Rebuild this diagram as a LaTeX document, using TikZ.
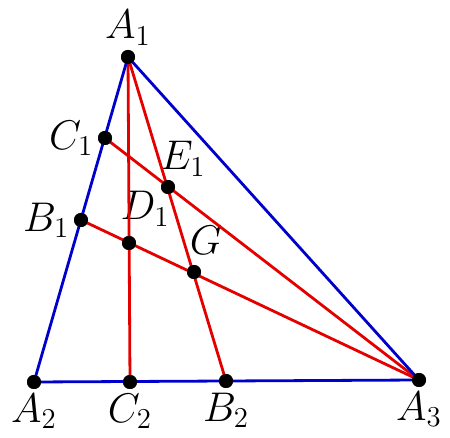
\documentclass[tikz,border=0pt]{standalone}
\usetikzlibrary{positioning}

\tikzset{
    dot/.style={circle, fill=black, inner sep=0pt, minimum size=7pt},
    side/.style={blue!80!black, line width=1.4pt},
    cevian/.style={red!90!black, line width=1.4pt},
    every label/.style={font=\huge, inner sep=2pt}
}

\begin{document}
\begin{tikzpicture}[x=0.5pt, y=-0.5pt]
    \useasboundingbox (0,0) rectangle (450,438);

    \node [dot, label=above:$A_1$] (A1) at (128 , 57) {};
    \node [dot, label=below:$A_2$] (A2) at (34 , 382) {};
    \node [dot, label=below:$A_3$] (A3) at (419 , 380) {};
    \node [dot, label=below:$C_2$] (C2) at (130 , 382) {};
    \node [dot, label=below:$B_2$] (B2) at (226 , 381) {};
    \node [dot, label=left:$C_1$] (C1) at (105 , 138) {};
    \node [dot, label=left:$B_1$] (B1) at (81 , 220) {};
    \node [dot, label={[xshift=7.5pt, yshift=-0.5pt]above:$E_1$}] (E1) at (168 , 187) {};
    \node [dot, label={[xshift=8pt, yshift=2.5pt]above:$D_1$}] (D1) at (129 , 243) {};
    \node [dot, label={[xshift=6pt, yshift=3pt]above:$G$}] (G) at (194 , 272) {};

 \path[cevian]
      (A1.center) edge (C2.center)
      (A1.center) edge (B2.center)
      (C1.center) edge (A3.center)
      (B1.center) edge (A3.center);
 \path[side]
      (A1.center) edge (A2.center)
      (A2.center) edge (A3.center)
      (A3.center) edge (A1.center);

    % dots on top of the lines
    \foreach \p in {A1, A2, A3, B1, B2, C1, C2, D1, E1, G}
        \fill (\p) circle (3.5pt);
\end{tikzpicture}
\end{document}
